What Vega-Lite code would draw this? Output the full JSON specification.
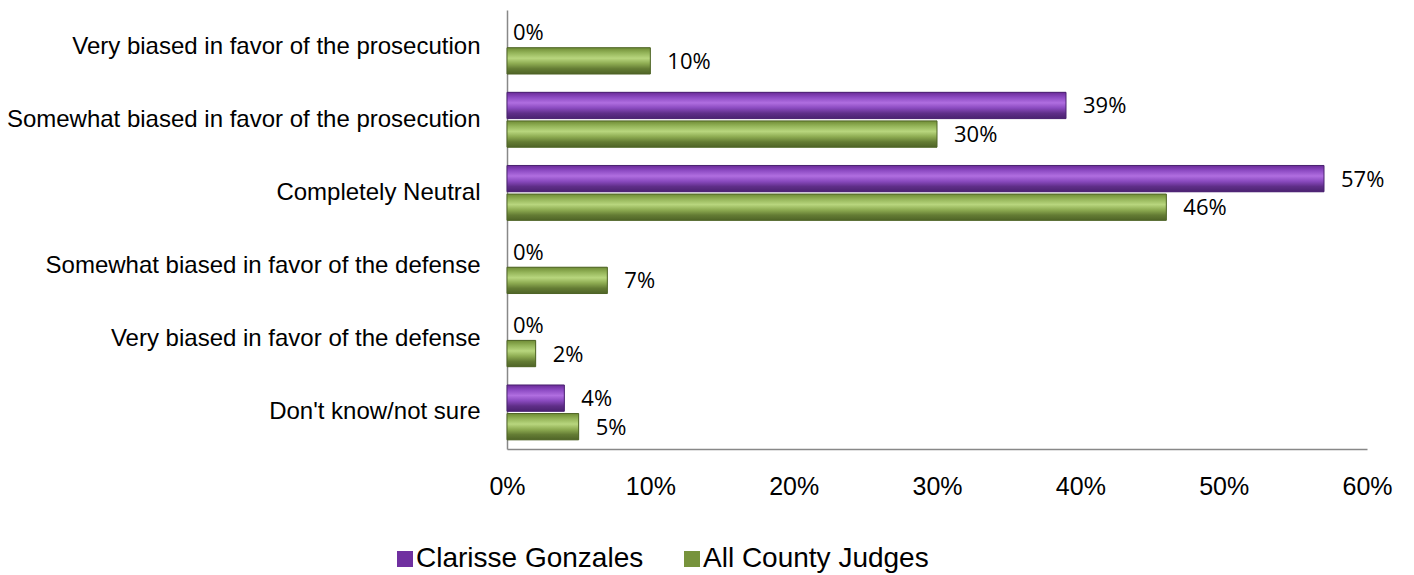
{
  "$schema": "https://vega.github.io/schema/vega-lite/v6.json",
  "width": 860,
  "height": 439,
  "autosize": {"type": "none"},
  "padding": {"left": 507, "top": 10, "right": 47, "bottom": 126},
  "background": "white",
  "config": {"view": {"stroke": null}},
  "data": {
    "values": [
      {"category": "Very biased in favor of the prosecution", "series": "Clarisse Gonzales", "value": 0},
      {"category": "Very biased in favor of the prosecution", "series": "All County Judges", "value": 0.10},
      {"category": "Somewhat biased in favor of the prosecution", "series": "Clarisse Gonzales", "value": 0.39},
      {"category": "Somewhat biased in favor of the prosecution", "series": "All County Judges", "value": 0.30},
      {"category": "Completely Neutral", "series": "Clarisse Gonzales", "value": 0.57},
      {"category": "Completely Neutral", "series": "All County Judges", "value": 0.46},
      {"category": "Somewhat biased in favor of the defense", "series": "Clarisse Gonzales", "value": 0},
      {"category": "Somewhat biased in favor of the defense", "series": "All County Judges", "value": 0.07},
      {"category": "Very biased in favor of the defense", "series": "Clarisse Gonzales", "value": 0},
      {"category": "Very biased in favor of the defense", "series": "All County Judges", "value": 0.02},
      {"category": "Don't know/not sure", "series": "Clarisse Gonzales", "value": 0.04},
      {"category": "Don't know/not sure", "series": "All County Judges", "value": 0.05}
    ]
  },
  "encoding": {
    "y": {
      "field": "category", "type": "nominal", "sort": null,
      "scale": {"paddingInner": 0.25, "paddingOuter": 0.125},
      "axis": {
        "title": null, "ticks": false, "domainColor": "#888888", "domainWidth": 1.5,
        "labelFont": "Liberation Sans", "labelFontSize": 24, "labelColor": "#000000",
        "labelPadding": 27, "labelLimit": 600
      }
    },
    "yOffset": {
      "field": "series", "type": "nominal",
      "sort": ["Clarisse Gonzales", "All County Judges"],
      "scale": {"paddingInner": 0.08}
    },
    "x": {
      "field": "value", "type": "quantitative",
      "scale": {"domain": [0, 0.6], "nice": false},
      "axis": {
        "title": null, "values": [0, 0.1, 0.2, 0.3, 0.4, 0.5, 0.6], "ticks": false, "grid": false,
        "domainColor": "#888888", "domainWidth": 1.5,
        "format": ".0%",
        "labelFont": "Liberation Sans", "labelFontSize": 25, "labelColor": "#000000",
        "labelPadding": 25, "labelFlush": false
      }
    }
  },
  "layer": [
    {
      "transform": [{"filter": "datum.value > 0"}],
      "mark": {"type": "bar"},
      "encoding": {
        "color": {
          "field": "series", "type": "nominal",
          "scale": {"domain": ["Clarisse Gonzales", "All County Judges"], "range": ["#7030a0", "#77933c"]},
          "legend": {
            "title": null, "orient": "none", "direction": "horizontal", "columns": 2,
            "legendX": -116, "legendY": 535,
            "symbolType": "square", "symbolSize": 256, "symbolStrokeWidth": 0,
            "labelFont": "Liberation Sans", "labelFontSize": 28, "labelColor": "#000000",
            "labelOffset": -3, "columnPadding": 34, "labelLimit": 600
          }
        }
      }
    },
    {
      "transform": [{"filter": "datum.series === 'Clarisse Gonzales' && datum.value > 0"}],
      "mark": {
        "type": "bar", "stroke": "#4a2270", "strokeWidth": 1,
        "fill": {
          "x1": 0, "y1": 0, "x2": 0, "y2": 1, "gradient": "linear",
          "stops": [
            {"offset": 0, "color": "#6a2a98"},
            {"offset": 0.2, "color": "#8e4cc4"},
            {"offset": 0.4, "color": "#b06ee0"},
            {"offset": 0.6, "color": "#8a4abf"},
            {"offset": 0.8, "color": "#5f2e88"},
            {"offset": 1, "color": "#4a2270"}
          ]
        }
      }
    },
    {
      "transform": [{"filter": "datum.series === 'All County Judges' && datum.value > 0"}],
      "mark": {
        "type": "bar", "stroke": "#4f6427", "strokeWidth": 1,
        "fill": {
          "x1": 0, "y1": 0, "x2": 0, "y2": 1, "gradient": "linear",
          "stops": [
            {"offset": 0, "color": "#6f8c35"},
            {"offset": 0.2, "color": "#95b55a"},
            {"offset": 0.4, "color": "#b8d67e"},
            {"offset": 0.6, "color": "#8eac52"},
            {"offset": 0.8, "color": "#647c34"},
            {"offset": 1, "color": "#4f6427"}
          ]
        }
      }
    },
    {
      "transform": [{"filter": "datum.value > 0"}],
      "mark": {"type": "text", "align": "left", "baseline": "middle", "dx": 17, "dy": 1, "font": "Open Sans", "fontSize": 22, "color": "#000000"},
      "encoding": {"text": {"field": "value", "type": "quantitative", "format": ".0%"}}
    },
    {
      "transform": [{"filter": "datum.value == 0"}],
      "mark": {"type": "text", "align": "left", "baseline": "middle", "dx": 6, "dy": 1, "font": "Open Sans", "fontSize": 22, "color": "#000000"},
      "encoding": {"text": {"field": "value", "type": "quantitative", "format": ".0%"}}
    }
  ]
}
